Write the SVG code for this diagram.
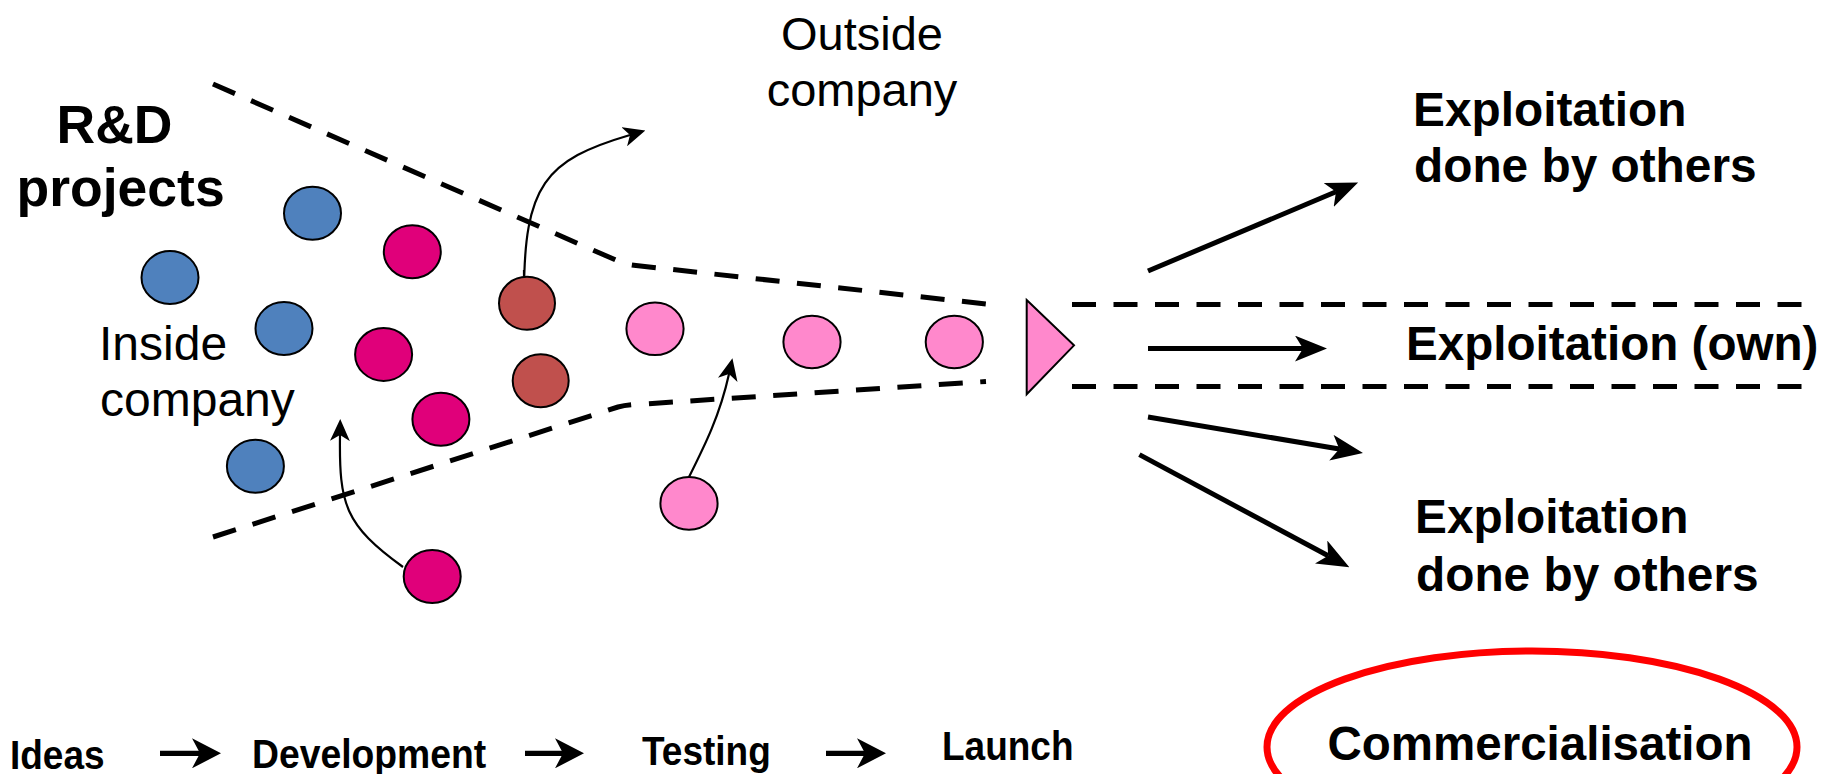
<svg xmlns="http://www.w3.org/2000/svg" width="1825" height="774" viewBox="0 0 1825 774">
<style>
.t{font-family:"Liberation Sans",Arial,sans-serif;fill:#000}
.b{font-weight:bold}
.node{stroke:#000;stroke-width:2}
.blue{fill:#4F81BD}
.mag{fill:#E0007A}
.brown{fill:#C0504D}
.pink{fill:#FF88CC}
.dash{fill:none;stroke:#000;stroke-width:5;stroke-dasharray:24 17.5;stroke-linejoin:round}
.thin{fill:none;stroke:#000;stroke-width:2.2;marker-end:url(#mThin)}
.thick{fill:none;stroke:#000;stroke-width:5;marker-end:url(#mThick)}
.step{fill:none;stroke:#000;stroke-width:5.3;marker-end:url(#mStep)}
</style>
<defs>
<marker id="mThin" markerUnits="userSpaceOnUse" viewBox="0 0 22 20" markerWidth="22" markerHeight="20" refX="6" refY="10" orient="auto">
<path d="M0,0 L22,10 L0,20 L6,10 z" fill="#000"/>
</marker>
<marker id="mThick" markerUnits="userSpaceOnUse" viewBox="0 0 32 26" markerWidth="32" markerHeight="26" refX="8" refY="13" orient="auto">
<path d="M0,0 L32,13 L0,26 L8,13 z" fill="#000"/>
</marker>
<marker id="mStep" markerUnits="userSpaceOnUse" viewBox="0 0 29 30" markerWidth="29" markerHeight="30" refX="8" refY="15" orient="auto">
<path d="M0,0 L29,15 L0,30 L8,15 z" fill="#000"/>
</marker>
</defs>
<rect width="1825" height="774" fill="#fff"/>

<g id="funnel">
<path class="dash" d="M213,84 L618,261 Q626,264.5 636,265.5 L986,304"/>
<path class="dash" d="M213,537 L618,407 Q626,405 636,404.5 L986,381.5"/>
<path class="dash" d="M1072,304.5 L1815,304.5"/>
<path class="dash" d="M1072,386.5 L1815,386.5"/>
</g>

<g id="connectors">
<path class="thin" d="M524,270 L524,295 M524,295 C524,185 545,160 630,135"/>
<path class="thin" d="M403,567 C345,525 339,505 340,435"/>
<path class="thin" d="M689,477 C705,445 720,415 729,374"/>
<line class="thick" x1="1148" y1="271" x2="1336" y2="191.8"/>
<line class="thick" x1="1148" y1="348.6" x2="1303" y2="348.6"/>
<line class="thick" x1="1148" y1="417" x2="1339.3" y2="449"/>
<line class="thick" x1="1139.4" y1="454.6" x2="1328.2" y2="555.8"/>
<line class="step" x1="160" y1="753.3" x2="200" y2="753.3"/>
<line class="step" x1="525" y1="753.3" x2="563" y2="753.3"/>
<line class="step" x1="826" y1="753.3" x2="865" y2="753.3"/>
</g>

<g id="node-blue1"><ellipse class="node blue" cx="312.5" cy="213.3" rx="28.5" ry="26.5"/></g>
<g id="node-blue2"><ellipse class="node blue" cx="170" cy="277.6" rx="28.5" ry="26.5"/></g>
<g id="node-blue3"><ellipse class="node blue" cx="284" cy="328.6" rx="28.5" ry="26.5"/></g>
<g id="node-blue4"><ellipse class="node blue" cx="255.4" cy="466.3" rx="28.5" ry="26.5"/></g>
<g id="node-mag1"><ellipse class="node mag" cx="412.3" cy="251.7" rx="28.5" ry="26.5"/></g>
<g id="node-mag2"><ellipse class="node mag" cx="383.6" cy="354.4" rx="28.5" ry="26.5"/></g>
<g id="node-mag3"><ellipse class="node mag" cx="440.9" cy="419.2" rx="28.5" ry="26.5"/></g>
<g id="node-mag4"><ellipse class="node mag" cx="432.2" cy="576.5" rx="28.5" ry="26.5"/></g>
<g id="node-brown1"><ellipse class="node brown" cx="527" cy="303.3" rx="28" ry="26.5"/></g>
<g id="node-brown2"><ellipse class="node brown" cx="540.7" cy="380.7" rx="28" ry="26.5"/></g>
<g id="node-pink1"><ellipse class="node pink" cx="655" cy="328.8" rx="28.6" ry="26.3"/></g>
<g id="node-pink2"><ellipse class="node pink" cx="812" cy="342" rx="28.6" ry="26.3"/></g>
<g id="node-pink3"><ellipse class="node pink" cx="954.3" cy="342" rx="28.6" ry="26.3"/></g>
<g id="node-pink4"><ellipse class="node pink" cx="689" cy="503.4" rx="28.6" ry="26.3"/></g>
<g id="node-gate"><polygon class="node pink" points="1026.7,300 1074,345.4 1026.7,394.3"/></g>

<g id="label-rd">
<text class="t b" x="114.5" y="142.6" font-size="53.5" text-anchor="middle">R&amp;D</text>
<text class="t b" x="120.6" y="206.3" font-size="53.5" text-anchor="middle">projects</text>
</g>
<g id="label-inside">
<text class="t" x="99" y="359.6" font-size="48">Inside</text>
<text class="t" x="100" y="416.4" font-size="48">company</text>
</g>
<g id="label-outside">
<text class="t" x="862" y="50" font-size="47" text-anchor="middle">Outside</text>
<text class="t" x="862" y="106" font-size="47" text-anchor="middle">company</text>
</g>
<g id="label-others-top">
<text class="t b" x="1413" y="125.5" font-size="47.8">Exploitation</text>
<text class="t b" x="1414" y="181.5" font-size="47.8">done by others</text>
</g>
<g id="label-own">
<text class="t b" x="1406" y="360" font-size="47.6">Exploitation (own)</text>
</g>
<g id="label-others-bottom">
<text class="t b" x="1415" y="533" font-size="47.8">Exploitation</text>
<text class="t b" x="1416" y="591" font-size="47.8">done by others</text>
</g>
<g id="stages">
<text class="t b" x="10" y="769" font-size="37" transform="translate(0,-61.5) scale(1,1.08)">Ideas</text>
<text class="t b" x="252" y="768" font-size="37.3" transform="translate(0,-61.4) scale(1,1.08)">Development</text>
<text class="t b" x="642" y="765" font-size="37" transform="translate(0,-61.2) scale(1,1.08)">Testing</text>
<text class="t b" x="942" y="760" font-size="37" transform="translate(0,-60.8) scale(1,1.08)">Launch</text>
</g>
<g id="node-commercialisation">
<ellipse cx="1532" cy="747" rx="265" ry="96" fill="none" stroke="#FF0000" stroke-width="7"/>
<text class="t b" x="1540" y="760" font-size="47.5" text-anchor="middle">Commercialisation</text>
</g>
</svg>
